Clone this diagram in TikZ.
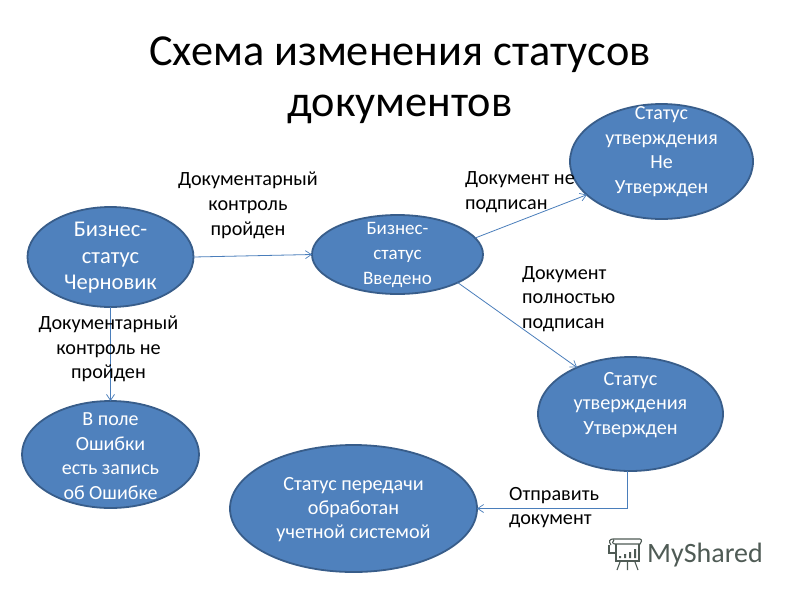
\documentclass[tikz,border=0pt]{standalone}
\usepackage{fontspec}
\setmainfont{Carlito}
\usetikzlibrary{shapes.geometric,arrows.meta}
\definecolor{efill}{HTML}{4F81BD}
\definecolor{eline}{HTML}{385D8A}
\definecolor{conn}{HTML}{4A7EBB}
\definecolor{logoc}{HTML}{4F5B55}
\newcommand{\intext}[2]{\raisebox{#1}[0pt][0pt]{\makebox[0pt]{\begin{tabular}[c]{@{}c@{}}#2\end{tabular}}}}
\tikzset{
  state/.style={ellipse,draw=eline,line width=1.8pt,fill=efill,text=white,inner sep=0pt,outer sep=0pt},
  conn/.style={draw=conn,line width=0.8pt,-{Straight Barb[length=6pt,width=8pt,line width=0.7pt]}},
  lab/.style={font=\fontsize{20.2}{24.7}\selectfont,text=black,inner sep=0pt,align=center},
  labl/.style={lab,align=left,anchor=west},
  ttl/.style={font=\fontsize{44.3}{51}\selectfont,text=black,inner sep=0pt,align=center},
  logo/.style={draw=logoc,line width=1.1pt}
}
\begin{document}
\begin{tikzpicture}[x=1pt,y=-1pt]
\useasboundingbox (0,0) rectangle (800,600);
\fill[white] (0,0) rectangle (800,600);
\node[ttl] (title) at (400,80) {Схема изменения статусов\\документов};
\node[state,minimum width=166pt,minimum height=100pt,font=\fontsize{22.5}{26.5}\selectfont] (draft) at (110.5,257) {\intext{-6pt}{Бизнес-\\статус\\Черновик}};
\node[state,minimum width=171pt,minimum height=79pt,font=\fontsize{19}{25}\selectfont] (entered) at (397.5,254.5) {\intext{-4pt}{Бизнес-\\статус\\Введено}};
\node[state,minimum width=183pt,minimum height=115pt,font=\fontsize{20}{24.5}\selectfont] (rejected) at (661.5,161.5) {\intext{4.5pt}{Статус\\утверждения\\Не\\Утвержден}};
\node[state,minimum width=185pt,minimum height=114pt,font=\fontsize{20.2}{24.5}\selectfont] (approved) at (630.5,414) {\intext{4pt}{Статус\\утверждения\\Утвержден}};
\node[state,minimum width=247pt,minimum height=127pt,font=\fontsize{20.2}{24}\selectfont] (processed) at (353.5,508.5) {\intext{-6.5pt}{Статус передачи\\обработан\\учетной системой}};
\node[state,minimum width=177pt,minimum height=107pt,font=\fontsize{20}{24.5}\selectfont] (error) at (110.5,454.5) {\intext{-8.5pt}{В поле\\Ошибки\\есть запись\\об Ошибке}};
\draw[conn] (draft.east) -- (entered.west);
\draw[conn] (draft.south) -- (error.north);
\draw[conn] (entered.12.4) -- (rejected.204.8);
\draw[conn] (entered.-25.2) -- (approved.139.7);
\draw[conn] (approved.267) |- (processed.east);
\node[lab] (l1) at (248,205.5) {Документарный\\контроль\\пройден};
\node[labl] (l2) at (465,192) {Документ не\\подписан};
\node[labl] (l3) at (522,299) {Документ\\полностью\\подписан};
\node[lab] (l4) at (108.5,349) {Документарный\\контроль не\\пройден};
\node[labl] (l5) at (509,507.5) {Отправить\\документ};
\node[font=\fontsize{28}{30}\selectfont,text=logoc,inner sep=0pt,anchor=west] (wm) at (647,555) {MyShared};
\draw[logo] (611,545) .. controls (608,541) and (610,539) .. (613,539) -- (640,539) .. controls (642,539) and (642,543) .. (640,544) -- (615,544) .. controls (612,544) and (612,541) .. (614,540);
\draw[logo] (609,545) -- (609,553) -- (615,553);
\draw[logo] (616,544) -- (616,561) -- (639,561) -- (639,544);
\fill[logoc] (619,556) rectangle (621,558) (624,554) rectangle (626,558) (629,552) rectangle (631,558) (634,549) rectangle (636,558);
\draw[logo] (620,562) -- (617,570) (627.5,562) -- (627.5,570) (635,562) -- (638,570);
\end{tikzpicture}
\end{document}
